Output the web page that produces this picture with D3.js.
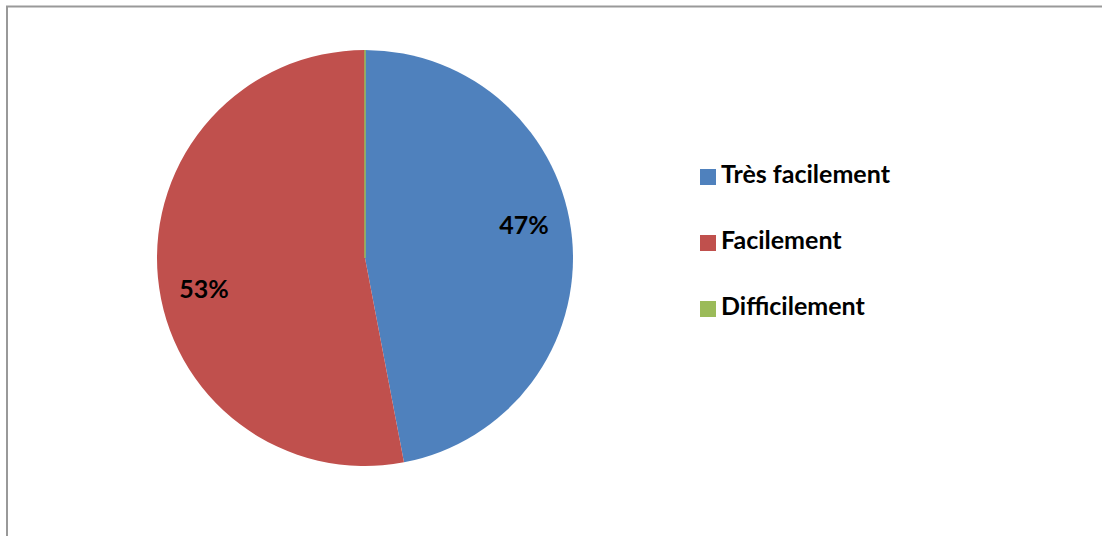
<!DOCTYPE html>
<html><head><meta charset="utf-8">
<script src="https://cdn.jsdelivr.net/npm/d3@7"></script>
<style>html,body{margin:0;padding:0;background:#fff;}svg{display:block;}</style>
</head><body>
<svg id="c" width="1102" height="536"></svg>
<script>
const categories = ["Très facilement", "Facilement", "Difficilement"];
const values = [47, 53, 0];
const labels = ["47%", "53%", ""];
const colors = ["#4F81BD", "#C0504D", "#9BBB59"];

const svg = d3.select("#c");
svg.append("path").attr("d", "M7,536 L7,6.5 L1102,6.5").attr("fill", "none").attr("stroke", "#999").attr("stroke-width", 2);

const cx = 365, cy = 258, r = 208;
const pie = d3.pie().sort(null).value(d => d)(values);
const arc = d3.arc().innerRadius(0).outerRadius(r);
const g = svg.append("g").attr("transform", `translate(${cx},${cy})`);
g.selectAll("path").data(pie).join("path")
  .attr("d", arc).attr("fill", (d, i) => colors[i])
  .attr("stroke", (d, i) => d.value > 0 ? "none" : colors[i]).attr("stroke-width", 1);

const labelPos = [[159, -30], [-161, 34]];
g.selectAll("text").data(pie).join("text")
  .attr("x", (d, i) => labelPos[i] ? labelPos[i][0] : 0)
  .attr("y", (d, i) => labelPos[i] ? labelPos[i][1] : 0)
  .attr("text-anchor", "middle").attr("dominant-baseline", "middle")
  .attr("font-family", "Lato, 'Open Sans', sans-serif").attr("font-weight", "bold")
  .attr("font-size", 25).attr("fill", "#000")
  .text((d, i) => labels[i]);

const leg = svg.append("g");
categories.forEach((c, i) => {
  const y = 177 + i * 66;
  leg.append("rect").attr("x", 700).attr("y", y - 8).attr("width", 16).attr("height", 16).attr("fill", colors[i]);
  leg.append("text").attr("x", 721).attr("y", y).attr("dominant-baseline", "middle")
    .attr("font-family", "Lato, 'Open Sans', sans-serif").attr("font-weight", "bold")
    .attr("font-size", 25).attr("fill", "#000").text(c);
});
</script>
</body></html>
